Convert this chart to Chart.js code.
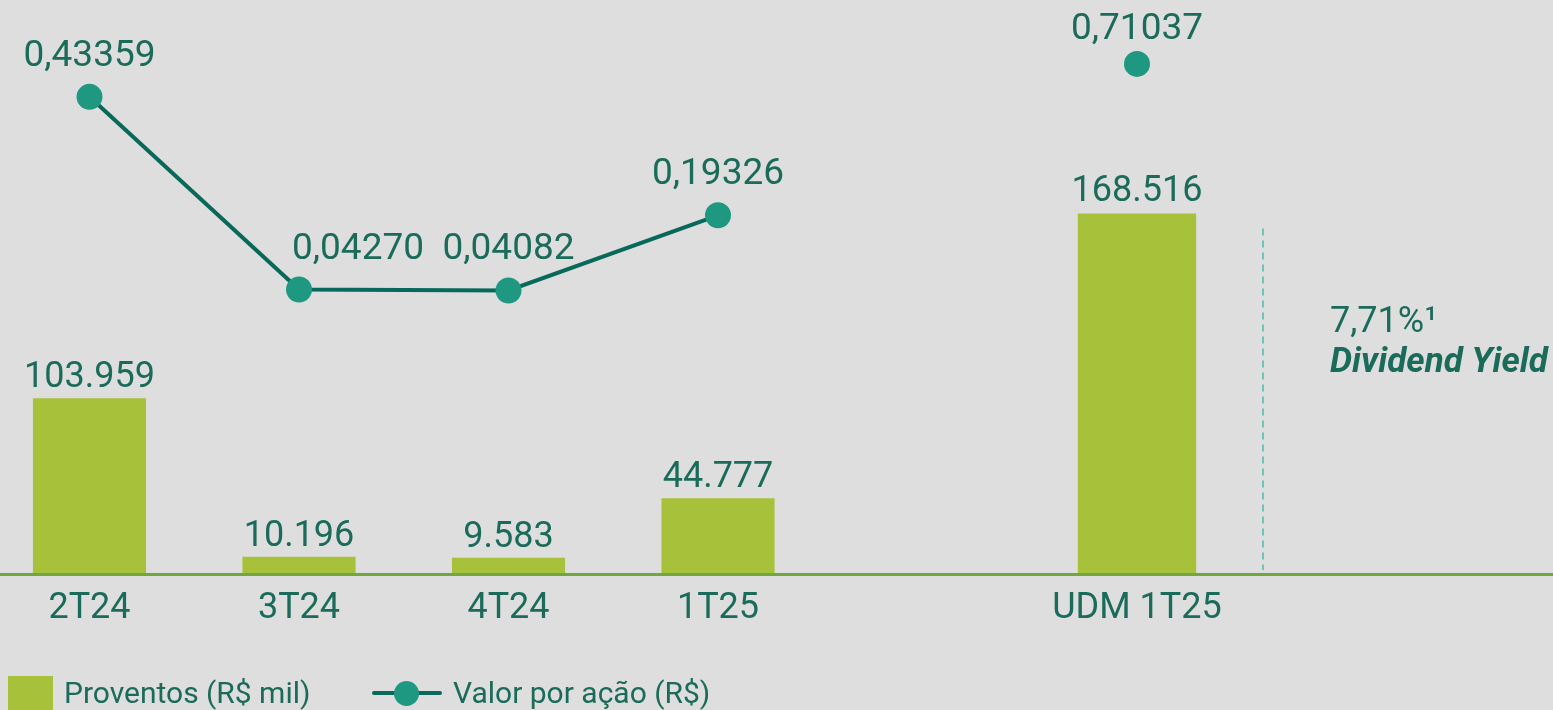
<!DOCTYPE html>
<html>
<head>
<meta charset="utf-8">
<script src="https://cdn.jsdelivr.net/npm/chart.js@4/dist/chart.umd.min.js"></script>
<style>
  html, body { margin: 0; padding: 0; background: #dedede; }
  #wrap { position: relative; width: 1553px; height: 710px; overflow: hidden; font-family: Roboto, sans-serif; color: #1b6b5a; }
  #legend { position: absolute; left: 0; top: 676px; height: 34px; width: 800px; }
  .box { position: absolute; left: 8px; top: 0; width: 45px; height: 40px; background: #a8c13a; }
  .txt { position: absolute; top: 0; font-size: 30px; line-height: 34px; white-space: nowrap; }
  .ln { position: absolute; left: 372px; top: 15px; width: 70px; height: 4px; background: #08695a; border-radius: 2px; }
  .dot { position: absolute; left: 394px; top: 5px; width: 25px; height: 25px; border-radius: 50%; background: #1f9882; }
</style>
</head>
<body>
<div id="wrap">
  <canvas id="proventos-chart" width="1553" height="710"></canvas>
  <div id="legend">
    <div class="box"></div>
    <div class="txt" style="left:64px">Proventos (R$ mil)</div>
    <div class="ln"></div>
    <div class="dot"></div>
    <div class="txt" style="left:453px">Valor por ação (R$)</div>
  </div>
</div>
<script>
// dados do gráfico
const periodos = ['2T24', '3T24', '4T24', '1T25', '', 'UDM 1T25'];
const proventosTrimestre = [103959, 10196, 9583, 44777, null, null];
const proventosUdm = [null, null, null, null, null, 168516];
const valorPorAcao = [0.43359, 0.04270, 0.04082, 0.19326, null, null];
const valorPorAcaoUdm = [null, null, null, null, null, 0.71037];
const dividendYield = '7,71%¹';
const dividendYieldLabel = 'Dividend Yield';

const textColor = '#1b6b5a';

// formatação pt-BR
const fmtMil = (v) => String(v).replace(/\B(?=(\d{3})+(?!\d))/g, '.');
const fmtReais = (v) => v.toFixed(5).replace('.', ',');

// linha da base em toda a largura
const baseLine = {
  id: 'baseLine',
  afterDatasetsDraw(chart) {
    const ctx = chart.ctx;
    const y = chart.scales.yBar.getPixelForValue(0);
    ctx.save();
    ctx.strokeStyle = '#6fa83f';
    ctx.lineWidth = 3;
    ctx.beginPath();
    ctx.moveTo(0, y + 0.5);
    ctx.lineTo(chart.width, y + 0.5);
    ctx.stroke();
    ctx.restore();
  }
};

// rótulos de valor
const valueLabels = {
  id: 'valueLabels',
  afterDatasetsDraw(chart) {
    const ctx = chart.ctx;
    ctx.save();
    ctx.fillStyle = textColor;
    ctx.textAlign = 'center';
    ctx.textBaseline = 'alphabetic';
    chart.data.datasets.forEach((ds, di) => {
      const meta = chart.getDatasetMeta(di);
      meta.data.forEach((el, i) => {
        const v = ds.data[i];
        if (v == null) return;
        const shift = (ds.labelShift && ds.labelShift[i]) || 0;
        const txt = ds.type === 'bar' ? fmtMil(v) : fmtReais(v);
        ctx.font = ds.type === 'bar' ? '36px Roboto' : '37px Roboto';
        ctx.fillText(txt, el.x + shift, el.y - ds.labelGap);
      });
    });
    ctx.restore();
  }
};

// dividend yield + linha tracejada
const yieldNote = {
  id: 'yieldNote',
  afterDraw(chart) {
    const ctx = chart.ctx;
    const bar = chart.getDatasetMeta(1).data[5];
    const x = bar.x + 126;
    ctx.save();
    ctx.strokeStyle = '#6cc4b4';
    ctx.lineWidth = 2;
    ctx.setLineDash([7, 5]);
    ctx.beginPath();
    ctx.moveTo(x, bar.y + 15);
    ctx.lineTo(x, chart.scales.yBar.getPixelForValue(0) - 4);
    ctx.stroke();
    ctx.setLineDash([]);
    ctx.fillStyle = textColor;
    ctx.textAlign = 'left';
    ctx.font = '36px Roboto';
    ctx.fillText(dividendYield, x + 67, 332);
    ctx.font = 'italic bold 35px Roboto';
    ctx.fillText(dividendYieldLabel, x + 67, 372);
    ctx.restore();
  }
};

new Chart(document.getElementById('proventos-chart').getContext('2d'), {
  data: {
    labels: periodos,
    datasets: [
      {
        type: 'bar',
        data: proventosTrimestre,
        yAxisID: 'yBar',
        backgroundColor: '#a8c13a',
        grouped: false,
        categoryPercentage: 1,
        barPercentage: 0.54,
        labelGap: 11,
        clip: false,
        order: 3
      },
      {
        type: 'bar',
        data: proventosUdm,
        yAxisID: 'yUdm',
        backgroundColor: '#a8c13a',
        grouped: false,
        categoryPercentage: 1,
        barPercentage: 0.565,
        labelGap: 13,
        clip: false,
        order: 3
      },
      {
        type: 'line',
        data: valorPorAcao,
        yAxisID: 'yLine',
        borderColor: '#08695a',
        borderWidth: 4,
        pointRadius: 13,
        pointBackgroundColor: '#1f9882',
        pointBorderWidth: 0,
        spanGaps: false,
        labelGap: 31,
        labelShift: { 1: 59 },
        clip: false,
        order: 1
      },
      {
        type: 'line',
        data: valorPorAcaoUdm,
        yAxisID: 'yUdmPt',
        showLine: false,
        pointRadius: 13,
        pointBackgroundColor: '#1f9882',
        pointBorderWidth: 0,
        labelGap: 25,
        clip: false,
        order: 1
      }
    ]
  },
  options: {
    responsive: false,
    devicePixelRatio: 1,
    animation: false,
    layout: { padding: { left: 89.5, right: 416, top: 0, bottom: 0 } },
    plugins: {
      legend: { display: false },
      tooltip: { enabled: false }
    },
    scales: {
      x: {
        offset: false,
        grid: { display: false, drawTicks: false },
        border: { display: false },
        ticks: {
          color: textColor,
          font: { family: 'Roboto', size: 36 },
          padding: 13,
          maxRotation: 0,
          autoSkip: false
        },
        afterFit(scale) { scale.height = 136; }
      },
      yBar: { display: false, min: 0, max: 332000 },
      yUdm: { display: false, min: 0, max: 262300 },
      yLine: { display: false, min: -0.5345, max: 0.6037 },
      yUdmPt: { display: false, min: 0, max: 0.7813 }
    }
  },
  plugins: [baseLine, valueLabels, yieldNote]
});
</script>
</body>
</html>
